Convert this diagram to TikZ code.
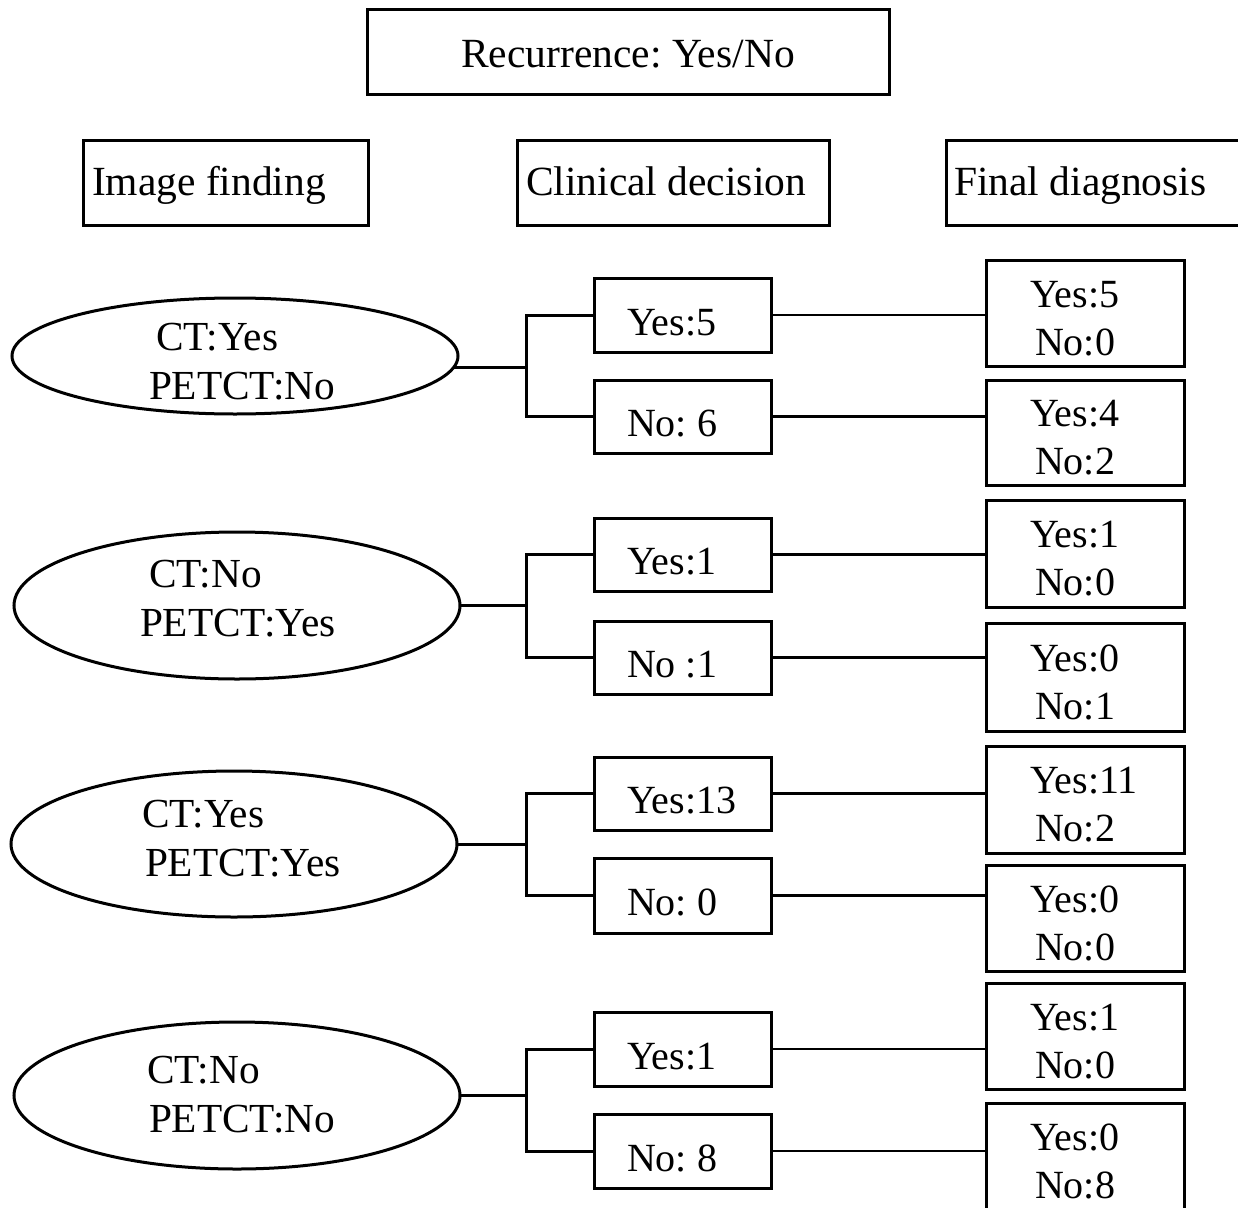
\documentclass[tikz,border=0pt]{standalone}
\usepackage{fontspec}
\setmainfont{Liberation Serif}
\usetikzlibrary{shapes.geometric}
\frenchspacing
\newcommand{\ynpair}[2]{\makebox[110pt][l]{\begin{tabular}[b]{@{}l@{}}Yes:#1\\\hspace*{5pt}No:#2\end{tabular}}}
\newcommand{\cdtext}[1]{\makebox[111pt][l]{#1}}
\newcommand{\ovtext}[5]{\makebox[#1pt][l]{\begin{tabular}[t]{@{}l@{}}\hspace*{#2pt}#3\\\hspace*{#4pt}#5\end{tabular}}}
\begin{document}
\begin{tikzpicture}[x=1pt,y=-1pt,
  box/.style={draw, line width=3pt, rectangle, inner sep=0pt, outer sep=0pt,
    font=\fontsize{40}{48}\selectfont\frenchspacing, text depth=0pt},
  headbox/.style={box, font=\fontsize{41.5}{48}\selectfont\frenchspacing},
  cdbox/.style={box, minimum width=177pt, text height=40pt},
  fdbox/.style={box, minimum width=198pt, text height=84pt},
  oval/.style={draw, ellipse, line width=3pt, inner sep=0pt, outer sep=0pt,
    font=\fontsize{41.3}{49}\selectfont\frenchspacing, minimum width=446pt, text height=0pt},
  bracket/.style={line width=3pt},
  link/.style={line width=2.3pt}]
\useasboundingbox (0,0) rectangle (1238,1207);

% header
\node[headbox, minimum width=522pt, minimum height=84pt, text height=31pt] (rec) at (628,52) {Recurrence: Yes/No};
\node[headbox, minimum width=285pt, minimum height=85pt, text height=25pt] (img) at (225.5,182.5) {\makebox[267pt][l]{Image finding}};
\node[headbox, minimum width=312pt, minimum height=85pt, text height=25pt] (cli) at (673,182.5) {\makebox[294pt][l]{Clinical decision}};
\node[headbox, minimum width=304pt, minimum height=85pt, text height=25pt] (fin) at (1098,182.5) {\makebox[288pt][l]{Final diagnosis}};

% image findings
\node[oval, minimum height=116pt, text depth=12pt] (E1) at (235,356) {\ovtext{172}{7}{CT:Yes}{0}{PETCT:No}};
\node[oval, minimum height=147pt, text depth=37pt] (E2) at (237,605.5) {\ovtext{194}{9}{CT:No}{0}{PETCT:Yes}};
\node[oval, minimum height=146pt, text depth=34pt] (E3) at (234,844) {\ovtext{184}{0}{CT:Yes}{3}{PETCT:Yes}};
\node[oval, minimum height=147pt, text depth=25pt] (E4) at (237,1095.5) {\ovtext{180}{0}{CT:No}{2}{PETCT:No}};

% clinical decisions
\node[cdbox, minimum height=74pt] (C1y) at (682.5,315) {\cdtext{Yes:5}};
\node[cdbox, minimum height=73pt] (C1n) at (682.5,416.5) {\cdtext{No: 6}};
\node[cdbox, minimum height=73pt] (C2y) at (682.5,554.5) {\cdtext{Yes:1}};
\node[cdbox, minimum height=73pt] (C2n) at (682.5,657.5) {\cdtext{No :1}};
\node[cdbox, minimum height=73pt] (C3y) at (682.5,793.5) {\cdtext{Yes:13}};
\node[cdbox, minimum height=75pt] (C3n) at (682.5,895.5) {\cdtext{No: 0}};
\node[cdbox, minimum height=74pt] (C4y) at (682.5,1049) {\cdtext{Yes:1}};
\node[cdbox, minimum height=74pt] (C4n) at (682.5,1151) {\cdtext{No: 8}};

% final diagnoses
\node[fdbox, minimum height=106pt] (F1a) at (1085,313.5) {\ynpair{5}{0}};
\node[fdbox, minimum height=105pt] (F1b) at (1085,432.5) {\ynpair{4}{2}};
\node[fdbox, minimum height=107pt] (F2a) at (1085,553.5) {\ynpair{1}{0}};
\node[fdbox, minimum height=108pt] (F2b) at (1085,677) {\ynpair{0}{1}};
\node[fdbox, minimum height=107pt] (F3a) at (1085,799.5) {\ynpair{11}{2}};
\node[fdbox, minimum height=106pt] (F3b) at (1085,918) {\ynpair{0}{0}};
\node[fdbox, minimum height=106pt] (F4a) at (1085,1036) {\ynpair{1}{0}};
\node[fdbox, minimum height=107pt] (F4b) at (1085,1156.5) {\ynpair{0}{8}};

% connectors
\coordinate (J) at (526.5,0);
\draw[bracket] (E1.-3) -- (E1.-3 -| J);
\draw[bracket] (E2.east) -- (E2.east -| J);
\draw[bracket] (E3.east) -- (E3.east -| J);
\draw[bracket] (E4.east) -- (E4.east -| J);
\foreach \g in {1,2,3,4}{
  \draw[bracket] (C\g y.west) -- (C\g y.west -| J) -- (C\g n.west -| J) -- (C\g n.west);
}
\draw[link] (C1y.east) -- (C1y.east -| F1a.west);
\draw[link] (C1n.east) -- (C1n.east -| F1b.west);
\draw[link] (C2y.east) -- (C2y.east -| F2a.west);
\draw[link] (C2n.east) -- (C2n.east -| F2b.west);
\draw[link] (C3y.east) -- (C3y.east -| F3a.west);
\draw[link] (C3n.east) -- (C3n.east -| F3b.west);
\draw[link] (C4y.east) -- (C4y.east -| F4a.west);
\draw[link] (C4n.east) -- (C4n.east -| F4b.west);
\end{tikzpicture}
\end{document}
